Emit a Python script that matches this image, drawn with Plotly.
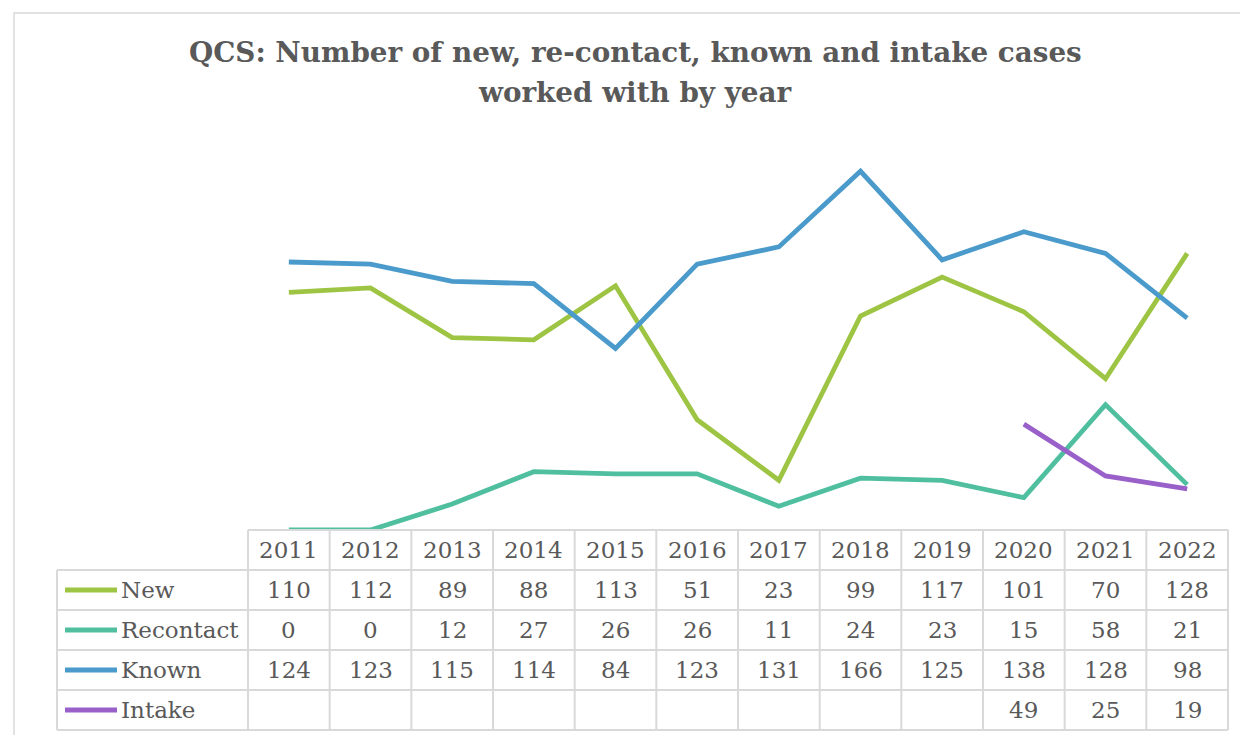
import plotly.graph_objects as go

years = ["2011", "2012", "2013", "2014", "2015", "2016", "2017", "2018", "2019", "2020", "2021", "2022"]
new_cases = [110, 112, 89, 88, 113, 51, 23, 99, 117, 101, 70, 128]
recontact = [0, 0, 12, 27, 26, 26, 11, 24, 23, 15, 58, 21]
known = [124, 123, 115, 114, 84, 123, 131, 166, 125, 138, 128, 98]
intake = [None, None, None, None, None, None, None, None, None, 49, 25, 19]

series = [
    ("New", new_cases, "#9DC443"),
    ("Recontact", recontact, "#4FBF9F"),
    ("Known", known, "#4A9BCB"),
    ("Intake", intake, "#9A60C9"),
]

OFF = 8  # page body margin offset
W, H = 1248 - OFF, 735 - OFF
PL, PR, PT, PB = 248 - OFF, 1228 - OFF, 141 - OFF, 530 - OFF  # plot area in pixels
YMAX = 180
TEXT = "#595959"
GRID = "#D9D9D9"
FONT = "DejaVu Serif"
TFS = 23


def px(x):
    return (x - OFF - PL) / (PR - PL)


def py(y):
    return (PB - (y - OFF)) / (PB - PT)


fig = go.Figure()
xs = list(range(len(years)))
for name, vals, col in series:
    fig.add_trace(go.Scatter(x=xs, y=vals, mode="lines", name=name,
                             line=dict(color=col, width=4.8), showlegend=False,
                             connectgaps=False))

shapes = []
annotations = []

# outer chart border
shapes.append(dict(type="rect", xref="paper", yref="paper", x0=px(14), x1=px(1262),
                   y0=py(750), y1=py(13), line=dict(color=GRID, width=1.5)))

# table geometry (reference pixel coordinates)
row_h = 40
tl, tr, tb = 248, 1228, 530
col_w = (tr - tl) / len(years)
rows_top = tb + row_h
table_bottom = tb + row_h * 5
legend_left = 57

shapes.append(dict(type="line", xref="paper", yref="paper", x0=px(tl), x1=px(tr),
                   y0=py(tb), y1=py(tb), line=dict(color=GRID, width=2)))
for i in range(5):
    yy = rows_top + i * row_h
    shapes.append(dict(type="line", xref="paper", yref="paper", x0=px(legend_left), x1=px(tr),
                       y0=py(yy), y1=py(yy), line=dict(color=GRID, width=2)))
shapes.append(dict(type="line", xref="paper", yref="paper", x0=px(legend_left), x1=px(legend_left),
                   y0=py(rows_top), y1=py(table_bottom), line=dict(color=GRID, width=2)))
for i in range(len(years) + 1):
    xx = tl + i * col_w
    shapes.append(dict(type="line", xref="paper", yref="paper", x0=px(xx), x1=px(xx),
                       y0=py(tb), y1=py(table_bottom), line=dict(color=GRID, width=2)))

for i, yr in enumerate(years):
    annotations.append(dict(xref="paper", yref="paper", x=px(tl + (i + 0.5) * col_w),
                            y=py(tb + row_h / 2), text=yr, showarrow=False,
                            xanchor="center", yanchor="middle",
                            font=dict(family=FONT, size=TFS, color=TEXT)))

for r, (name, vals, col) in enumerate(series):
    yc = rows_top + r * row_h + row_h / 2
    shapes.append(dict(type="line", xref="paper", yref="paper", x0=px(65), x1=px(117),
                       y0=py(yc), y1=py(yc), line=dict(color=col, width=5)))
    annotations.append(dict(xref="paper", yref="paper", x=px(119), y=py(yc), text=name,
                            showarrow=False, xanchor="left", yanchor="middle",
                            font=dict(family=FONT, size=TFS, color=TEXT)))
    for i, v in enumerate(vals):
        if v is None:
            continue
        annotations.append(dict(xref="paper", yref="paper", x=px(tl + (i + 0.5) * col_w),
                                y=py(yc), text=str(v), showarrow=False,
                                xanchor="center", yanchor="middle",
                                font=dict(family=FONT, size=TFS, color=TEXT)))

# title (two lines)
for txt, yy in [("QCS: Number of new, re-contact, known and intake cases", 52),
                ("worked with by year", 92)]:
    annotations.append(dict(xref="paper", yref="paper", x=px(635), y=py(yy),
                            text="<b>" + txt + "</b>", showarrow=False,
                            xanchor="center", yanchor="middle",
                            font=dict(family=FONT, size=27.8, color=TEXT)))

fig.update_layout(
    width=W, height=H,
    margin=dict(l=PL, r=W - PR, t=PT, b=H - PB),
    paper_bgcolor="white", plot_bgcolor="white",
    xaxis=dict(range=[-0.5, len(years) - 0.5], showgrid=False, zeroline=False,
               showticklabels=False, showline=False, fixedrange=True),
    yaxis=dict(range=[0, YMAX], showgrid=False, zeroline=False,
               showticklabels=False, showline=False, fixedrange=True),
    shapes=shapes, annotations=annotations,
)

fig.write_html("out.html")
